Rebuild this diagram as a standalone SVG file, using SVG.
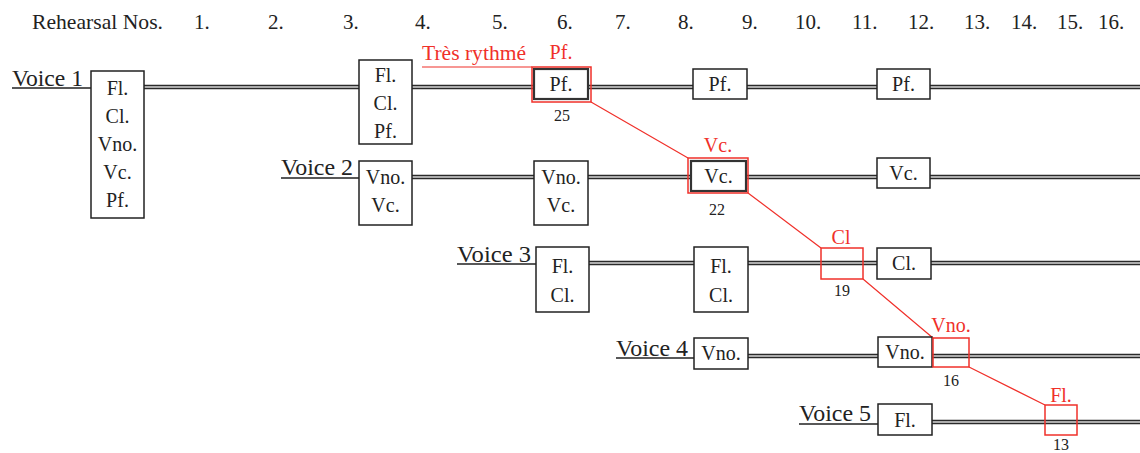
<svg xmlns="http://www.w3.org/2000/svg" width="1140" height="453" viewBox="0 0 1140 453" font-family="'Liberation Serif', 'Times New Roman', 'DejaVu Serif', serif">
<style>
text{font-family:"Liberation Serif","Times New Roman","DejaVu Serif",serif;fill:#222}
.hd{font-size:21px}
.vl{font-size:22.5px}
.bt{font-size:20px;text-anchor:middle}
.num{font-size:16px;text-anchor:middle}
.rl{font-size:20px;text-anchor:middle;fill:#f0302a}
.box{fill:#fff;stroke:#222;stroke-width:1.5}
.boxb{fill:#fff;stroke:#333;stroke-width:2.2}
.rbox{fill:none;stroke:#f0302a;stroke-width:1.5}
.dl{stroke:#2a2a2a;stroke-width:4.5;fill:none}
.dlc{stroke:#d8d8d8;stroke-width:1.4;fill:none}
.ul{stroke:#222;stroke-width:1.5;fill:none}
.rc{stroke:#f0302a;stroke-width:1.2;fill:none}
</style>
<g id="header">
<text class="hd" x="32" y="29" textLength="131" lengthAdjust="spacingAndGlyphs">Rehearsal Nos.</text>
<text class="hd" x="194" y="29">1.</text>
<text class="hd" x="268" y="29">2.</text>
<text class="hd" x="343" y="29">3.</text>
<text class="hd" x="415" y="29">4.</text>
<text class="hd" x="492" y="29">5.</text>
<text class="hd" x="557" y="29">6.</text>
<text class="hd" x="615" y="29">7.</text>
<text class="hd" x="678" y="29">8.</text>
<text class="hd" x="742" y="29">9.</text>
<text class="hd" x="795" y="29">10.</text>
<text class="hd" x="852" y="29">11.</text>
<text class="hd" x="908" y="29">12.</text>
<text class="hd" x="964" y="29">13.</text>
<text class="hd" x="1011" y="29">14.</text>
<text class="hd" x="1057" y="29">15.</text>
<text class="hd" x="1098" y="29">16.</text>
</g>
<g id="connectors">
<path class="dl" d="M144 87H1140M412 177H1140M589 263H1140M748 356H1140M932 422H1140"/>
<path class="dlc" d="M144 87H1140M412 177H1140M589 263H1140M748 356H1140M932 422H1140"/>
<path class="ul" d="M12 88H91M281 178H359M457 264H536M616 358H694M799 424H878"/>
<path class="rc" d="M422 67H532"/>
<path class="rc" d="M591 102L688 158M748 193L821 248M863 279L933 338M969 367L1045 405"/>
</g>
<g id="voice1">
<text class="vl" x="12" y="86" textLength="71" lengthAdjust="spacingAndGlyphs">Voice 1</text>
<rect class="box" x="91" y="71" width="53" height="147"/>
<text class="bt" x="117.5" y="95">Fl.</text>
<text class="bt" x="117.5" y="123">Cl.</text>
<text class="bt" x="117.5" y="151">Vno.</text>
<text class="bt" x="117.5" y="179">Vc.</text>
<text class="bt" x="117.5" y="207">Pf.</text>
</g>
<g id="v1-box3">
<rect class="box" x="359" y="60" width="53" height="84"/>
<text class="bt" x="385.5" y="82">Fl.</text>
<text class="bt" x="385.5" y="110">Cl.</text>
<text class="bt" x="385.5" y="138">Pf.</text>
</g>
<g id="v1-box6">
<text class="rl" x="474" y="60" textLength="104" lengthAdjust="spacingAndGlyphs">Très rythmé</text>
<text class="rl" x="561" y="59">Pf.</text>
<rect class="boxb" x="534" y="69" width="54" height="30"/>
<rect class="rbox" x="532" y="67" width="59" height="35"/>
<text class="bt" x="561" y="91">Pf.</text>
<text class="num" x="562" y="121">25</text>
</g>
<g id="v1-box8">
<rect class="box" x="693" y="69" width="54" height="30"/>
<text class="bt" x="720" y="91">Pf.</text>
</g>
<g id="v1-box12">
<rect class="box" x="877" y="69" width="53" height="30"/>
<text class="bt" x="903.5" y="91">Pf.</text>
</g>
<g id="voice2">
<text class="vl" x="281" y="175" textLength="72" lengthAdjust="spacingAndGlyphs">Voice 2</text>
<rect class="box" x="359" y="161" width="53" height="64"/>
<text class="bt" x="385.5" y="184">Vno.</text>
<text class="bt" x="385.5" y="212">Vc.</text>
</g>
<g id="v2-box6">
<rect class="box" x="534" y="161" width="54" height="64"/>
<text class="bt" x="561" y="184">Vno.</text>
<text class="bt" x="561" y="212">Vc.</text>
</g>
<g id="v2-box8">
<text class="rl" x="718" y="152">Vc.</text>
<rect class="boxb" x="691" y="161" width="55" height="30"/>
<rect class="rbox" x="688" y="158" width="60" height="35"/>
<text class="bt" x="718.5" y="183">Vc.</text>
<text class="num" x="717" y="215">22</text>
</g>
<g id="v2-box12">
<rect class="box" x="877" y="158" width="53" height="30"/>
<text class="bt" x="903.5" y="180">Vc.</text>
</g>
<g id="voice3">
<text class="vl" x="457" y="262" textLength="74" lengthAdjust="spacingAndGlyphs">Voice 3</text>
<rect class="box" x="536" y="247" width="53" height="65"/>
<text class="bt" x="562.5" y="273">Fl.</text>
<text class="bt" x="562.5" y="302">Cl.</text>
</g>
<g id="v3-box8">
<rect class="box" x="694" y="247" width="54" height="65"/>
<text class="bt" x="721" y="273">Fl.</text>
<text class="bt" x="721" y="302">Cl.</text>
</g>
<g id="v3-box11">
<text class="rl" x="841" y="244">Cl</text>
<rect class="rbox" x="821" y="248" width="42" height="31"/>
<text class="num" x="842" y="296">19</text>
</g>
<g id="v3-box12">
<rect class="box" x="877" y="248" width="54" height="31"/>
<text class="bt" x="904" y="270">Cl.</text>
</g>
<g id="voice4">
<text class="vl" x="616" y="356" textLength="72" lengthAdjust="spacingAndGlyphs">Voice 4</text>
<rect class="box" x="694" y="338" width="54" height="31"/>
<text class="bt" x="721" y="360">Vno.</text>
</g>
<g id="v4-box12">
<rect class="box" x="878" y="337" width="54" height="30"/>
<text class="bt" x="905" y="359">Vno.</text>
</g>
<g id="v4-box13">
<text class="rl" x="951" y="332">Vno.</text>
<rect class="rbox" x="933" y="338" width="36" height="29"/>
<text class="num" x="951" y="386">16</text>
</g>
<g id="voice5">
<text class="vl" x="799" y="421" textLength="72" lengthAdjust="spacingAndGlyphs">Voice 5</text>
<rect class="box" x="878" y="404" width="54" height="31"/>
<text class="bt" x="905" y="427">Fl.</text>
</g>
<g id="v5-box15">
<text class="rl" x="1061" y="402">Fl.</text>
<rect class="rbox" x="1045" y="405" width="32" height="30"/>
<text class="num" x="1061" y="450">13</text>
</g>
</svg>
